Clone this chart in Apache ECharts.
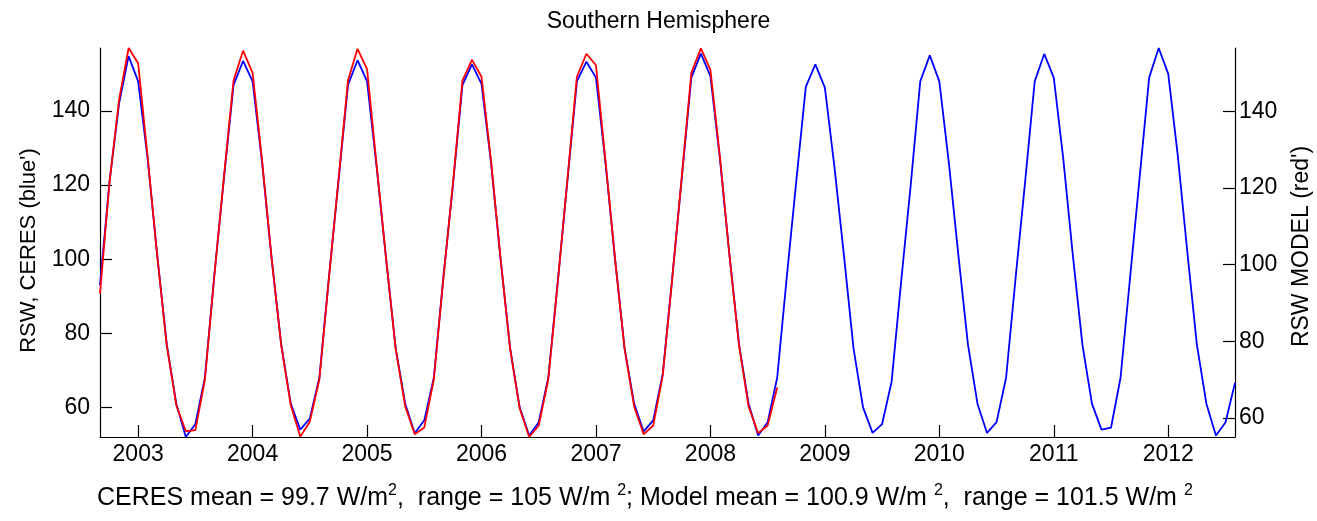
<!DOCTYPE html>
<html>
<head>
<meta charset="utf-8">
<script src="https://cdn.jsdelivr.net/npm/echarts@6/dist/echarts.min.js"></script>
<style>
html, body { margin: 0; padding: 0; background: #ffffff; }
#chart { width: 1317px; height: 521px; }
</style>
</head>
<body>
<div id="chart"></div>
<script>
// Monthly reflected shortwave, Southern Hemisphere, starting September 2002
const startYear = 2002;
const startMonth = 9;

// CERES observations (W/m^2), Sep 2002 - Aug 2012
const ceresRsw = [
  93.0, 121, 142, 154.8,
  148, 127, 101, 77, 61, 52.0, 55.5, 68, 96, 122, 147, 153.5,
  148, 126, 100, 77, 61, 54.0, 57, 68, 95, 121, 147, 153.7,
  148, 125, 100, 76, 61, 53.0, 56.5, 68, 95, 120, 147, 152.6,
  147.3, 126, 100, 76, 60, 52.4, 56, 68, 94, 121, 148, 153.3,
  149, 126, 100, 76, 61, 53.5, 56.5, 69, 95, 122, 149, 155.5,
  149.4, 127, 101, 77, 61, 52.4, 56, 68, 95, 121, 146.5, 152.6,
  146.3, 125, 101, 76, 60, 53.1, 55.5, 67, 94, 120, 148, 155.0,
  148, 126, 101, 77, 61, 53.1, 56, 68, 95, 121, 148, 155.4,
  149, 127, 101, 77, 61, 54.0, 54.5, 68, 95, 122, 149, 157.0,
  150, 128, 102, 77, 61, 52.4, 55.9, 66.6
];

// Model (W/m^2), Sep 2002 - Aug 2008
const modelRsw = [
  92.4, 121.5, 143, 156.5,
  152.5, 128, 102.3, 78.9, 63.3, 56.5, 56.8, 70, 97.4, 123, 148, 155.8,
  150, 127, 101.5, 78.9, 63.3, 55.1, 59, 70, 96.4, 122, 148, 156.3,
  151, 126, 101.5, 78, 63, 55.7, 57.5, 70, 96.4, 121, 148, 153.4,
  149, 127, 101.5, 78, 62.5, 55.0, 58, 70, 95.5, 122, 149, 155.0,
  152, 127, 101.5, 78, 63, 55.7, 58, 71, 96.4, 123, 150, 156.4,
  150.8, 128, 102.3, 78.9, 63, 56.0, 58, 67.9
];

const yearTicks = [2003, 2004, 2005, 2006, 2007, 2008, 2009, 2010, 2011, 2012];
const leftTicks = [60, 80, 100, 120, 140];
const rightTicks = [60, 80, 100, 120, 140];

const titleText = 'Southern Hemisphere';
const leftName = "RSW, CERES (blue')";
const rightName = "RSW MODEL (red')";
const statsText = 'CERES mean = 99.7 W/m{sup|2},  range = 105 W/m {sup|2}; Model mean = 100.9 W/m {sup|2},  range = 101.5 W/m {sup|2}';

// decimal year of the i-th month
function monthPos(i) { return startYear + (startMonth - 1 + i) / 12; }
const toPairs = arr => arr.map((v, i) => [monthPos(i), v]);

const FONT = '"Liberation Sans", Arial, Helvetica, sans-serif';
const axisLine = { show: true, onZero: false, lineStyle: { color: '#000', width: 1.2 } };
const tickBase = { show: true, inside: true, length: 12, lineStyle: { color: '#000', width: 1.2 } };
const labelBase = { color: '#000', fontFamily: FONT, fontSize: 23 };

const chart = echarts.init(document.getElementById('chart'), null, { renderer: 'canvas' });
chart.setOption({
  animation: false,
  backgroundColor: '#ffffff',
  title: [
    {
      text: titleText, left: 'center', top: 10, padding: 0,
      textStyle: { color: '#000', fontFamily: FONT, fontSize: 23, fontWeight: 'normal' }
    },
    {
      text: statsText, left: 97, top: 483, padding: 0,
      textStyle: {
        color: '#000', fontFamily: FONT, fontSize: 25, fontWeight: 'normal', lineHeight: 30,
        rich: { sup: { color: '#000', fontFamily: FONT, fontSize: 16, lineHeight: 16, verticalAlign: 'top' } }
      }
    }
  ],
  grid: { left: 100, right: 82, top: 48, bottom: 84, containLabel: false, outerBoundsMode: 'none' },
  xAxis: {
    type: 'value',
    min: monthPos(0),
    max: monthPos(ceresRsw.length - 1),
    axisLine: axisLine,
    axisTick: Object.assign({}, tickBase, { customValues: yearTicks }),
    axisLabel: Object.assign({}, labelBase, { customValues: yearTicks, margin: 6, formatter: v => String(Math.round(v)) }),
    splitLine: { show: false }
  },
  yAxis: [
    {
      type: 'value', position: 'left', min: 52, max: 157,
      name: leftName, nameLocation: 'middle', nameRotate: 90, nameGap: 60,
      nameTextStyle: { color: '#000', fontFamily: FONT, fontSize: 22, padding: [0, 16, 0, 0] },
      axisLine: axisLine,
      axisTick: Object.assign({}, tickBase, { customValues: leftTicks }),
      axisLabel: Object.assign({}, labelBase, { customValues: leftTicks, margin: 10 }),
      splitLine: { show: false }
    },
    {
      type: 'value', position: 'right', min: 55, max: 156.5,
      name: rightName, nameLocation: 'middle', nameRotate: 90, nameGap: 55,
      nameTextStyle: { color: '#000', fontFamily: FONT, fontSize: 23, padding: [0, 8, 0, 0] },
      axisLine: axisLine,
      axisTick: Object.assign({}, tickBase, { customValues: rightTicks }),
      axisLabel: Object.assign({}, labelBase, { customValues: rightTicks, margin: 4 }),
      splitLine: { show: false }
    }
  ],
  series: [
    {
      name: 'CERES', type: 'line', yAxisIndex: 0, data: toPairs(ceresRsw),
      showSymbol: false, symbol: 'none', smooth: false, z: 2,
      lineStyle: { color: '#0000ff', width: 1.8 }, itemStyle: { color: '#0000ff' }
    },
    {
      name: 'Model', type: 'line', yAxisIndex: 1, data: toPairs(modelRsw),
      showSymbol: false, symbol: 'none', smooth: false, z: 3,
      lineStyle: { color: '#ff0000', width: 1.8 }, itemStyle: { color: '#ff0000' }
    }
  ]
});
</script>
</body>
</html>
